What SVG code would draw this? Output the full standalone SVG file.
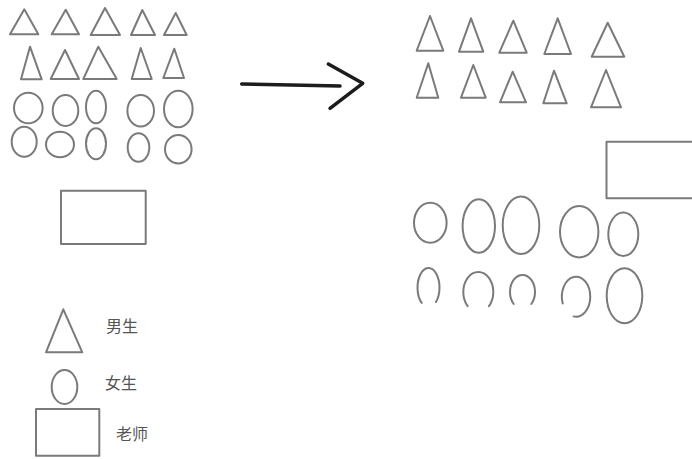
<svg xmlns="http://www.w3.org/2000/svg" width="692" height="459" viewBox="0 0 692 459">
<style>
.s{fill:none;stroke:#7a7a7a;stroke-width:2;stroke-linejoin:round;stroke-linecap:round}
.t{font-family:"Noto Sans CJK SC","Noto Sans",sans-serif;font-size:16px;fill:#555}
.a{fill:none;stroke:#1c1c1c;stroke-width:3.5;stroke-linecap:round;stroke-linejoin:round}
</style>
<rect width="692" height="459" fill="#ffffff"/>
<g id="left-boys">
<polygon class="s" points="24.3,9.3 38.3,34.3 10,34.3"/>
<polygon class="s" points="65.7,9.7 79,34.3 51.7,34.3"/>
<polygon class="s" points="105,8 120,35 90.7,35"/>
<polygon class="s" points="142.3,10 155,35 131,35"/>
<polygon class="s" points="175.7,13 186.7,35 164,35"/>
<polygon class="s" points="30,46.7 41.7,79.3 21,79.3"/>
<polygon class="s" points="65,50 79,79 50.7,79"/>
<polygon class="s" points="98.3,46.7 116.7,79 83.3,79"/>
<polygon class="s" points="140.7,48 151.7,79 131.7,79"/>
<polygon class="s" points="174.3,48.7 184,78 163.3,78"/>
</g>
<g id="left-girls">
<ellipse class="s" cx="28.3" cy="108" rx="14.3" ry="15.3"/>
<ellipse class="s" cx="65.5" cy="110.5" rx="12.8" ry="15.5"/>
<ellipse class="s" cx="96" cy="107" rx="10" ry="16.3"/>
<ellipse class="s" cx="140.7" cy="110.8" rx="13.3" ry="15.8"/>
<ellipse class="s" cx="178.3" cy="109" rx="14.3" ry="18.3"/>
<ellipse class="s" cx="24.2" cy="141.7" rx="12.5" ry="15"/>
<ellipse class="s" cx="60" cy="144.5" rx="14" ry="12.8"/>
<ellipse class="s" cx="96" cy="143.8" rx="10" ry="15.5"/>
<ellipse class="s" cx="138.5" cy="147.5" rx="10.8" ry="14.2"/>
<ellipse class="s" cx="178.3" cy="149.2" rx="13.3" ry="14.2"/>
</g>
<g id="left-teacher">
<rect class="s" x="61" y="190.7" width="84.7" height="53.3"/>
</g>
<g id="right-boys">
<polygon class="s" points="430,16 443.3,50.7 416.7,50.7"/>
<polygon class="s" points="471,18.3 483.3,51.7 459,51.7"/>
<polygon class="s" points="513.3,20.7 526.7,52.7 499.3,52.7"/>
<polygon class="s" points="557.7,18.3 571,54 544.3,54"/>
<polygon class="s" points="607.7,22.7 624.3,56.7 591.7,56.7"/>
<polygon class="s" points="428.3,63.3 438.3,97.7 416.7,97.7"/>
<polygon class="s" points="473.3,65 485.7,97.7 461,97.7"/>
<polygon class="s" points="512.7,71.7 526,102.3 500,102.3"/>
<polygon class="s" points="554,70.7 566.7,103.3 543.3,103.3"/>
<polygon class="s" points="606,70 621,107.3 591,107.3"/>
</g>
<g id="right-teacher">
<rect class="s" x="606.5" y="141.7" width="100" height="56.6"/>
</g>
<g id="right-girls">
<ellipse class="s" cx="430.3" cy="222.7" rx="16.3" ry="20"/>
<ellipse class="s" cx="478.8" cy="226" rx="16.2" ry="26.7"/>
<ellipse class="s" cx="521" cy="225.3" rx="18.3" ry="28.7"/>
<ellipse class="s" cx="579.2" cy="231.7" rx="19.2" ry="25.7"/>
<ellipse class="s" cx="623.3" cy="234.3" rx="15" ry="21.7"/>
<path class="s" d="M421.7,302.9 A11,19.5 0 1 1 435.9,302"/>
<path class="s" d="M467.7,306.1 A15,20 0 1 1 488.9,306.1"/>
<path class="s" d="M513.7,304 A12.5,17 0 1 1 531.3,304"/>
<path class="s" d="M562.7,303.5 A14.2,20 0 1 1 573.5,316.4"/>
<ellipse class="s" cx="624.5" cy="295.8" rx="17.8" ry="27.5"/>
</g>
<g id="legend-boy">
<polygon class="s" points="63.3,309.3 82.3,352.3 46,352.3"/>
<text class="t" x="106" y="332">男生</text>
</g>
<g id="legend-girl">
<ellipse class="s" cx="64.5" cy="387" rx="12.8" ry="17"/>
<text class="t" x="105" y="389">女生</text>
</g>
<g id="legend-teacher">
<rect class="s" x="36" y="409" width="63.3" height="46.7"/>
<text class="t" x="116" y="440">老师</text>
</g>
<g id="connectors">
<path class="a" d="M241.7,84 L340,86"/>
<path class="a" d="M328.3,64 L362.7,83.3 L330,108.3"/>
</g>
</svg>
